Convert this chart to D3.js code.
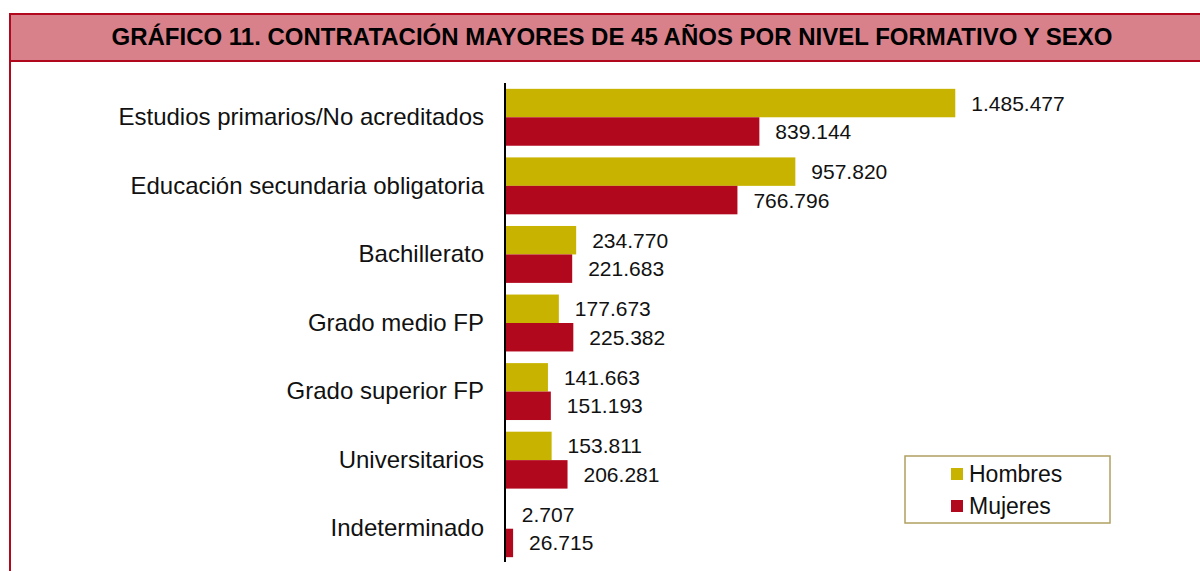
<!DOCTYPE html>
<html>
<head>
<meta charset="utf-8">
<script src="https://cdn.jsdelivr.net/npm/d3@7"></script>
<style>
  body { margin: 0; background: #fff; }
  svg { display: block; font-family: "Liberation Sans", Arial, sans-serif; }
</style>
</head>
<body>
<svg id="chart"></svg>
<script>
const title = "GRÁFICO 11. CONTRATACIÓN MAYORES DE 45 AÑOS POR NIVEL FORMATIVO Y SEXO"
const categories = ["Estudios primarios/No acreditados", "Educación secundaria obligatoria", "Bachillerato",
  "Grado medio FP", "Grado superior FP", "Universitarios", "Indeterminado"]
const seriesNames = ["Hombres", "Mujeres"]
const hombres = [1485477, 957820, 234770, 177673, 141663, 153811, 2707]
const mujeres = [839144, 766796, 221683, 225382, 151193, 206281, 26715]

const WIDTH = 1200
const HEIGHT = 571
const RED = "#b2081e"
const GOLD = "#c8b400"
const colors = [GOLD, RED]

const fmt = d3.formatLocale({decimal: ",", thousands: ".", grouping: [3], currency: ["", " €"]}).format(",d")

const svg = d3.select("#chart").attr("width", WIDTH).attr("height", HEIGHT)

// frame + title band
svg.append("rect")
  .attr("x", 10).attr("y", 14).attr("width", 1210).attr("height", 600)
  .attr("fill", "#fff").attr("stroke", RED).attr("stroke-width", 2)
svg.append("rect")
  .attr("x", 10).attr("y", 14).attr("width", 1210).attr("height", 47)
  .attr("fill", "#d9818a").attr("stroke", RED).attr("stroke-width", 2)
svg.append("text")
  .attr("x", 612).attr("y", 45)
  .attr("text-anchor", "middle")
  .attr("font-weight", "bold").attr("font-size", 24)
  .text(title)

const y = d3.scaleBand()
  .domain(categories)
  .range([83, 563])
  .paddingInner(0.17)
  .paddingOuter(0.085)
const sub = d3.scaleBand()
  .domain(seriesNames)
  .range([0, y.bandwidth()])
const x = d3.scaleLinear()
  .domain([0, 1600000])
  .range([505, 990])

const rows = categories.map((c, i) => ({name: c, values: [hombres[i], mujeres[i]]}))

const g = svg.append("g").attr("class", "bars")
const group = g.selectAll(".cat")
  .data(rows)
  .enter().append("g")
    .attr("class", "cat")
    .attr("transform", d => `translate(0,${y(d.name)})`)

group.selectAll("rect")
  .data(d => d.values.map((v, k) => ({key: seriesNames[k], value: v, k: k})))
  .enter().append("rect")
    .attr("x", x(0))
    .attr("y", d => sub(d.key))
    .attr("width", d => x(d.value) - x(0))
    .attr("height", sub.bandwidth())
    .attr("fill", d => colors[d.k])

group.selectAll("text.val")
  .data(d => d.values.map((v, k) => ({key: seriesNames[k], value: v})))
  .enter().append("text")
    .attr("class", "val")
    .attr("x", d => x(d.value) + 16)
    .attr("y", d => sub(d.key) + sub.bandwidth() / 2)
    .attr("dy", "0.36em")
    .attr("font-size", 21)
    .attr("fill", "#111")
    .text(d => fmt(d.value))

// category axis
const axis = svg.append("g")
  .attr("transform", `translate(${x(0)},0)`)
  .call(d3.axisLeft(y).tickSize(0).tickPadding(21))
axis.select(".domain").attr("stroke", "#000").attr("stroke-width", 2)
  .attr("d", "M0,83V562")
axis.selectAll("text")
  .attr("font-size", 24)
  .attr("font-family", "Liberation Sans, Arial, sans-serif")
  .attr("fill", "#111")

// legend
const legend = svg.append("g").attr("transform", "translate(905,456)")
legend.append("rect")
  .attr("width", 205).attr("height", 67)
  .attr("fill", "#fff").attr("stroke", "#b0a060").attr("stroke-width", 1.5)
const item = legend.selectAll(".item")
  .data(seriesNames)
  .enter().append("g")
    .attr("class", "item")
    .attr("transform", (d, i) => `translate(46,${12 + i * 32})`)
item.append("rect")
  .attr("width", 12).attr("height", 12)
  .attr("fill", (d, i) => colors[i])
item.append("text")
  .attr("x", 18).attr("y", 6).attr("dy", "0.36em")
  .attr("font-size", 23)
  .attr("fill", "#111")
  .text(d => d)
</script>
</body>
</html>
